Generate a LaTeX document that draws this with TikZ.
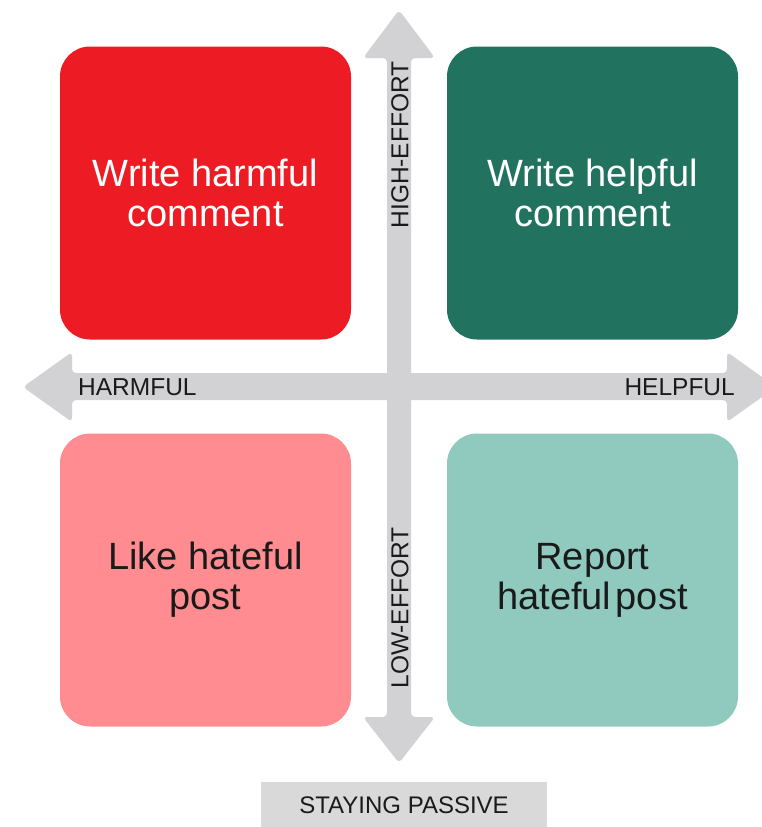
\documentclass[tikz,border=0pt]{standalone}
\usepackage{fontspec}
\setmainfont{Liberation Sans}
\setsansfont{Liberation Sans}
\definecolor{cred}{RGB}{237,28,36}
\definecolor{cgreen}{RGB}{34,114,96}
\definecolor{cpink}{RGB}{255,140,144}
\definecolor{cteal}{RGB}{144,202,190}
\definecolor{carrow}{RGB}{210,210,213}
\definecolor{cpass}{RGB}{217,217,217}
\definecolor{ctext}{RGB}{26,26,26}
\tikzset{
  quad/.style={rounded corners=30pt, minimum width=291pt, minimum height=293pt,
    inner sep=0pt, align=center, font=\fontsize{38}{40}\selectfont},
  axisarrow/.style={fill=carrow, draw=none, rounded corners=4pt},
  axislabel/.style={font=\fontsize{24.5}{26}\selectfont, text=ctext, inner sep=0pt},
}
\begin{document}
\begin{tikzpicture}[x=1pt,y=-1pt]
\useasboundingbox (0,0) rectangle (762,827);
\clip (0,0) rectangle (762,827);
% vertical axis arrow
\fill[axisarrow] (399,10) -- (435,58) -- (411,58) -- (411,717) -- (435,717) -- (399,763)
  -- (363,717) -- (387,717) -- (387,58) -- (363,58) -- cycle;
% horizontal axis arrow
\fill[axisarrow] (23,387) -- (72,352) -- (72,373) -- (727,373) -- (727,352) -- (776,387)
  -- (727,422) -- (727,400) -- (72,400) -- (72,422) -- cycle;
% quadrants
\node[quad, fill=cred, text=white] (harmfulhigh) at (205.5,193) {Write harmful\\comment};
\node[quad, fill=cgreen, text=white] (helpfulhigh) at (592.5,193) {Write helpful\\comment};
\node[quad, fill=cpink, text=ctext] (harmfullow) at (205.5,580) {Like hateful\\post};
\node[quad, fill=cteal, text=ctext] (helpfullow) at (592.5,580) {Report\\hateful\hspace{0.12em}post};
% axis labels
\node[axislabel, anchor=west] (harm) at (78,387) {HARMFUL};
\node[axislabel, anchor=east] (help) at (735,387) {HELPFUL};
\node[axislabel, rotate=90] (high) at (400,145) {HIGH-EFFORT};
\node[axislabel, rotate=90] (low) at (400,608) {LOW-EFFORT};
% staying passive
\node[fill=cpass, minimum width=286pt, minimum height=46pt, inner sep=0pt,
  font=\fontsize{24}{26}\selectfont, text=ctext] (passive) at (404,805) {STAYING PASSIVE};
\end{tikzpicture}
\end{document}
